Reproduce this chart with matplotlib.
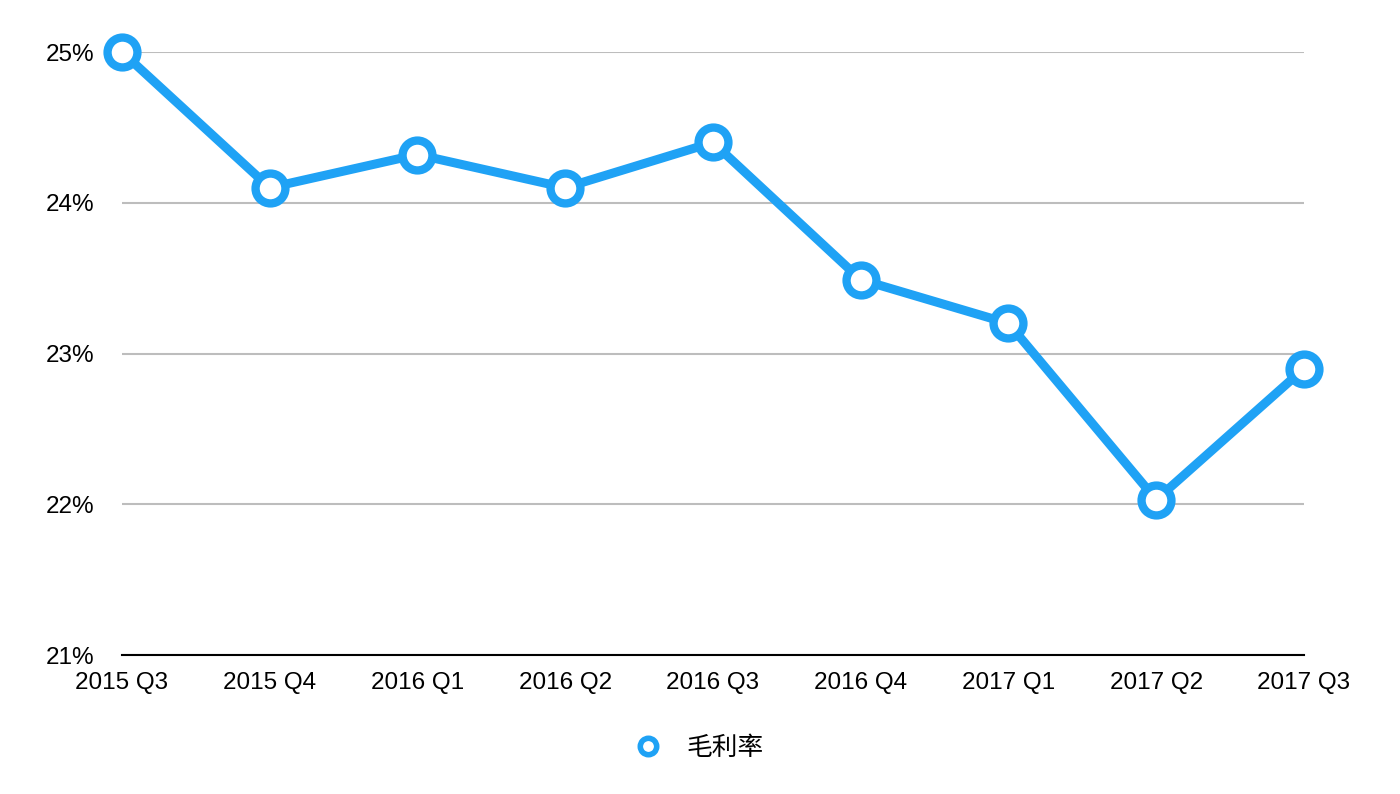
import matplotlib
matplotlib.use('Agg')
from matplotlib import pyplot as plt
from matplotlib.ticker import FuncFormatter

quarters = ['2015 Q3', '2015 Q4', '2016 Q1', '2016 Q2', '2016 Q3',
            '2016 Q4', '2017 Q1', '2017 Q2', '2017 Q3']
gross_margin = [25.0, 24.1, 24.32, 24.1, 24.4, 23.49, 23.2, 22.03, 22.9]
series_name = '毛利率'
y_ticks = [21, 22, 23, 24, 25]

BLUE = '#1fa2f5'

plt.rcParams['font.family'] = ['Liberation Sans', 'Noto Sans CJK SC', 'DejaVu Sans']

fig = plt.figure(figsize=(14, 7.94), dpi=100)
ax = fig.add_axes([0.0871, 0.175, 0.8443, 0.7595])

x = list(range(len(quarters)))
ax.plot(x, gross_margin, color=BLUE, lw=6.5, marker='o', ms=21.5,
        mfc='white', mec=BLUE, mew=6, clip_on=False, zorder=3,
        label=series_name)

ax.set_xlim(0, len(quarters) - 1)
ax.set_ylim(21, 25)
ax.set_yticks(y_ticks)
ax.yaxis.set_major_formatter(FuncFormatter(lambda v, _: f'{v:.0f}%'))
ax.set_xticks(x)
ax.set_xticklabels(quarters)
ax.tick_params(axis='both', length=0, labelsize=17.5, colors='black')
ax.tick_params(axis='y', pad=20)
ax.tick_params(axis='x', pad=12)

ax.grid(axis='y', color='#bdbdbd', lw=1.5)
ax.set_axisbelow(True)
for side in ['top', 'right', 'left']:
    ax.spines[side].set_visible(False)
ax.spines['bottom'].set_color('black')
ax.spines['bottom'].set_linewidth(1.5)
ax.spines['bottom'].set_zorder(2)

leg = fig.legend(loc='center', bbox_to_anchor=(0.4985, 0.058), frameon=False,
                 handlelength=1.2, handletextpad=0.9, markerscale=0.55,
                 prop={'family': ['Noto Sans CJK SC'], 'size': 18.5})
for h in leg.legend_handles:
    h.set_linestyle('none')
    h.set_markeredgewidth(4)

fig.savefig('out.png', dpi=100)
